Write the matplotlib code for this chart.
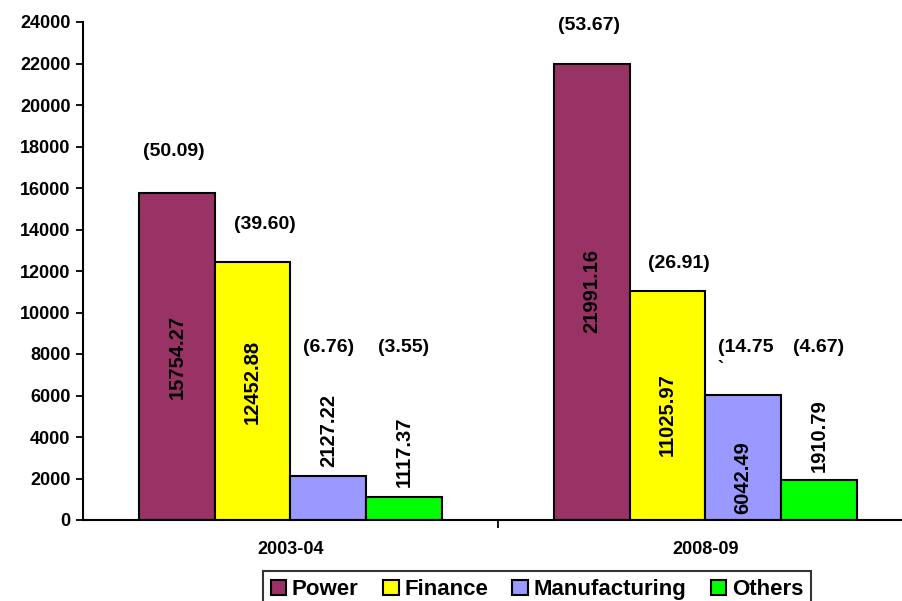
import numpy as np
import matplotlib.pyplot as plt
from matplotlib.patches import Patch

plt.rcParams['font.family'] = ['Liberation Sans', 'DejaVu Sans']
plt.rcParams['font.weight'] = 'bold'

years = ['2003-04', '2008-09']
sectors = ['Power', 'Finance', 'Manufacturing', 'Others']
power = [15754.27, 21991.16]
finance = [12452.88, 11025.97]
manufacturing = [2127.22, 6042.49]
others = [1117.37, 1910.79]
pct_power = ['(50.09)', '(53.67)']
pct_finance = ['(39.60)', '(26.91)']
pct_manufacturing = ['(6.76)', '(14.75']
pct_others = ['(3.55)', '(4.67)']

colors = ['#993366', '#FFFF00', '#9999FF', '#00FF00']

# hand placed label heights (data units), like the original text boxes
pct_y = [[17735, 23855], [14265, 12385], [8337, 8337], [8337, 8337]]
pct_dx = [[-0.007, -0.007], [0.029, 0.027], [0.0, 0.005], [0.0, 0.0]]
val_y = [[7855, 11036], [6650, 5060], [4337, 2024], [3277, 4048]]

fig = plt.figure(figsize=(9.03, 6.01), dpi=100)
ax = fig.add_axes([83 / 903, 81 / 601, 820 / 903, 498 / 601])

x = np.arange(len(years))
w = 0.182
series = [power, finance, manufacturing, others]
pcts = [pct_power, pct_finance, pct_manufacturing, pct_others]
for i, vals in enumerate(series):
    pos = x - 2 * w + (i + 0.5) * w
    ax.bar(pos, vals, w, color=colors[i], edgecolor='black', linewidth=1.5, zorder=2)
    for j in range(len(years)):
        ax.text(pos[j] + pct_dx[i][j], pct_y[i][j], pcts[i][j], ha='center', va='center',
                fontsize=14, fontweight='bold')
        ax.text(pos[j], val_y[i][j], '%.2f' % vals[j], rotation=90,
                ha='center', va='center', fontsize=14.5, fontweight='bold')

# stray tick mark under the (14.75 label
ax.text(1.037, 7250, '`', ha='center', va='center', fontsize=13, fontweight='bold')

ax.set_xlim(-0.5, 1.476)
ax.set_ylim(0, 24000)
ax.set_yticks(np.arange(0, 24001, 2000))
ax.tick_params(axis='y', labelsize=13, length=5, width=1.3, direction='out', pad=4)
ax.set_xticks([0.5])
ax.set_xticklabels([''])
ax.tick_params(axis='x', length=6, width=1.3, direction='out')
for j, yr in enumerate(years):
    ax.text(x[j], -1400, yr, ha='center', va='center', fontsize=13, fontweight='bold')

for s in ['top', 'right']:
    ax.spines[s].set_visible(False)
ax.spines['left'].set_linewidth(1.5)
ax.spines['bottom'].set_linewidth(1.5)

handles = [Patch(facecolor=c, edgecolor='black', linewidth=1.5, label=s) for c, s in zip(colors, sectors)]
leg = fig.legend(handles=handles, loc='lower center', bbox_to_anchor=(537 / 903, -0.03), ncol=4,
                 prop={'weight': 'bold', 'size': 16}, frameon=True, fancybox=False,
                 edgecolor='black', handlelength=0.7, handleheight=0.7, handletextpad=0.25,
                 columnspacing=1.1, borderpad=0.35)
leg.get_frame().set_linewidth(1.5)

fig.savefig('out.png', dpi=100)
